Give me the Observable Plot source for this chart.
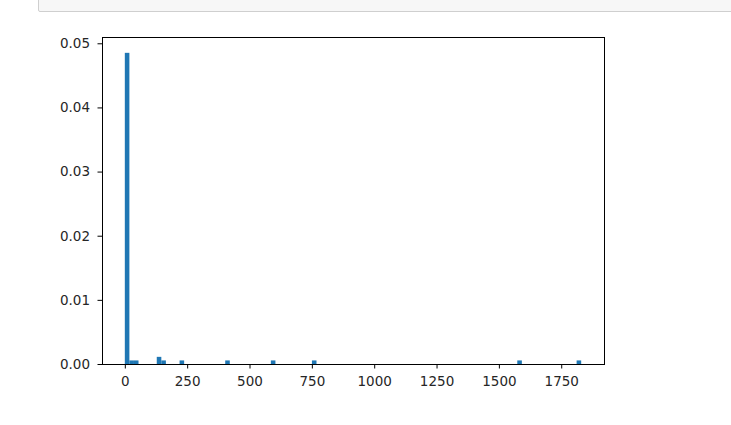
<!DOCTYPE html>
<html>
<head>
<meta charset="utf-8">
<script src="https://cdn.jsdelivr.net/npm/d3@7"></script>
<script src="https://cdn.jsdelivr.net/npm/@observablehq/plot@0.6"></script>
<style>
  body { margin: 0; background: #fff; }
  #wrap { position: relative; width: 731px; height: 425px; overflow: hidden; }
  #cell { position: absolute; left: 38px; top: -2px; width: 720px; height: 12px;
          background: #f7f7f7; border: 1px solid #cfcfcf; border-radius: 2px; }
  #chart { position: absolute; left: 0; top: 0; }
</style>
</head>
<body>
<div id="wrap">
  <div id="chart"></div>
  <div id="cell"></div>
</div>
<script>
// Histogram (density) of values in [0, 1830], 100 bins
const binWidth = 18.3;
const binIndex = [0, 1, 2, 7, 8, 12, 22, 32, 41, 86, 99];
const binCount = [87, 1, 1, 2, 1, 1, 1, 1, 1, 1, 1];
const xTicks = [0, 250, 500, 750, 1000, 1250, 1500, 1750];
const yTicks = [0, 0.01, 0.02, 0.03, 0.04, 0.05];

const total = d3.sum(binCount);
const bins = binIndex.map((b, i) => ({
  x1: b * binWidth,
  x2: (b + 1) * binWidth,
  y: binCount[i] / (total * binWidth)
}));

const font = "DejaVu Sans, sans-serif";
const chart = Plot.plot({
  width: 731,
  height: 425,
  marginLeft: 102,
  marginRight: 127,
  marginTop: 37,
  marginBottom: 61,
  style: { fontFamily: font, fontSize: "13.5px", color: "#262626", background: "transparent" },
  x: { domain: [-91.5, 1921.5] },
  y: { domain: [0, 0.05098] },
  marks: [
    Plot.rectY(bins, { x1: "x1", x2: "x2", y: "y", fill: "#1f77b4", insetLeft: 0, insetRight: 0 }),
    Plot.frame({ stroke: "#000", strokeWidth: 1 }),
    Plot.axisX({ ticks: xTicks, tickSize: 4.5, tickPadding: 7, tickFormat: d => String(d), label: null, stroke: "#000", fill: "#262626", fontSize: 13.5 }),
    Plot.axisY({ ticks: yTicks, tickSize: 4.5, tickPadding: 8, tickFormat: d3.format(".2f"), label: null, stroke: "#000", fill: "#262626", fontSize: 13.5 })
  ]
});
document.getElementById("chart").appendChild(chart);
</script>
</body>
</html>
